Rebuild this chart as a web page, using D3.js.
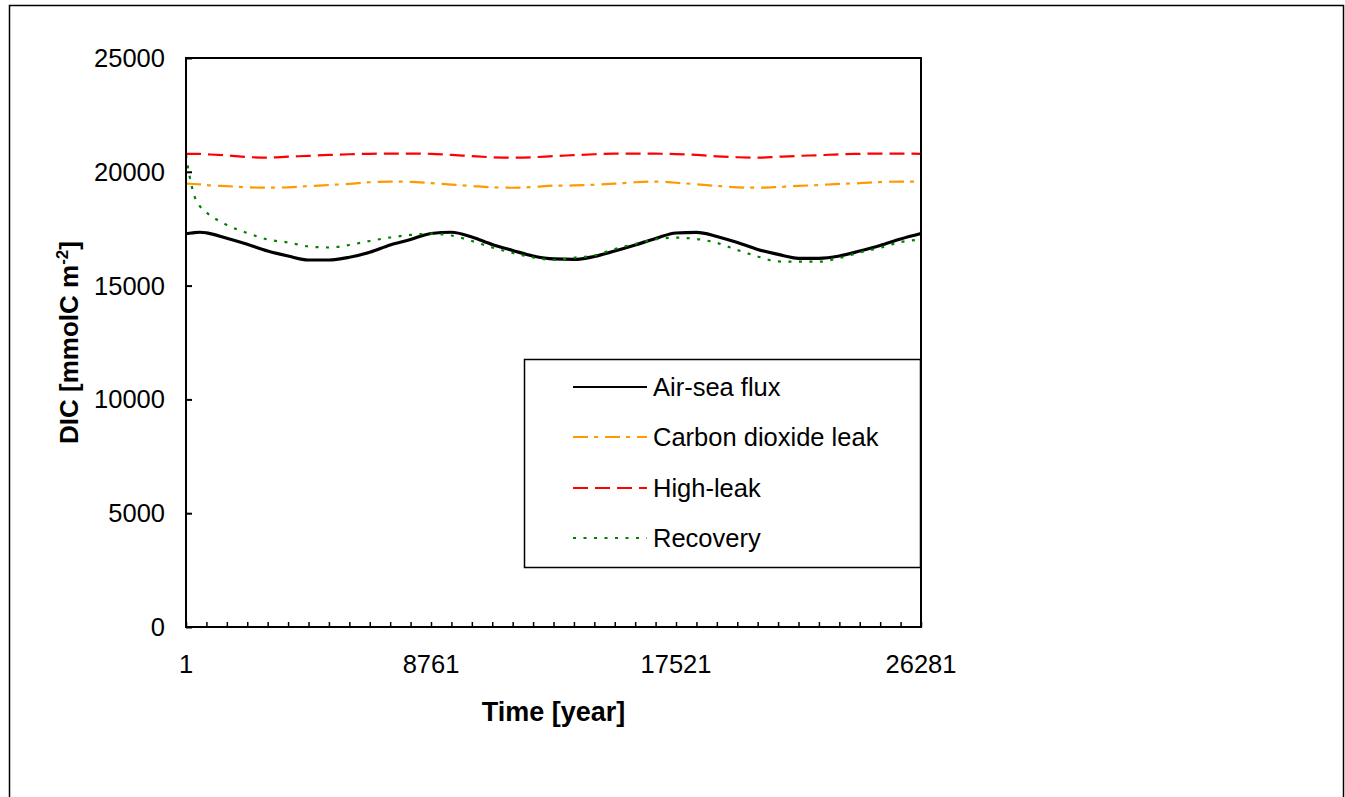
<!DOCTYPE html>
<html>
<head>
<meta charset="utf-8">
<script src="https://cdn.jsdelivr.net/npm/d3@7/dist/d3.min.js"></script>
<style>
  html, body { margin: 0; padding: 0; background: #fff; }
  svg { display: block; font-family: "Liberation Sans", Arial, sans-serif; }
</style>
</head>
<body>
<svg id="chart" width="1345" height="797"></svg>
<script>
// Time steps (hourly index over three years)
const time = [1, 121, 301, 501, 731, 1461, 2191, 2921, 3651, 4381, 5111, 5841, 6571, 7301,
  8031, 8761, 9491, 10221, 10951, 11681, 12411, 13141, 13871, 14601, 15331, 16061,
  16791, 17521, 18251, 18981, 19711, 20441, 21171, 21901, 22631, 23361, 24091,
  24821, 25551, 26281];

// DIC per scenario [mmolC m-2]
const airSeaFlux = [17280, 17300, 17330, 17345, 17320, 17080, 16815, 16520, 16300, 16125,
  16125, 16245, 16465, 16785, 17025, 17290, 17345, 17135, 16805, 16545, 16300, 16170,
  16150, 16280, 16520, 16785, 17070, 17310, 17335, 17160, 16895, 16590, 16370, 16200,
  16200, 16300, 16520, 16765, 17050, 17290];

const co2Leak = [19480, 19475, 19465, 19450, 19420, 19370, 19320, 19300, 19320, 19370,
  19420, 19470, 19540, 19570, 19560, 19500, 19440, 19380, 19320, 19300, 19330, 19390,
  19400, 19430, 19480, 19540, 19570, 19520, 19450, 19380, 19320, 19300, 19330, 19380,
  19420, 19470, 19500, 19550, 19570, 19570];

const highLeak = [20790, 20790, 20790, 20785, 20770, 20720, 20650, 20625, 20665, 20700,
  20740, 20770, 20790, 20800, 20800, 20790, 20745, 20690, 20640, 20620, 20640, 20690,
  20730, 20770, 20795, 20800, 20795, 20780, 20740, 20680, 20640, 20620, 20660, 20700,
  20730, 20770, 20790, 20800, 20800, 20790];

const recovery = [20740, 19860, 18940, 18480, 18215, 17665, 17310, 17025, 16895, 16720,
  16675, 16785, 16960, 17115, 17225, 17280, 17200, 16960, 16675, 16435, 16235, 16125,
  16225, 16325, 16610, 16830, 17035, 17105, 17050, 16875, 16565, 16280, 16060, 16050,
  16050, 16215, 16455, 16665, 16915, 17020];

const seriesNames = ["Air-sea flux", "Carbon dioxide leak", "High-leak", "Recovery"];
const xTickLabels = [1, 8761, 17521, 26281];
const yTickValues = [0, 5000, 10000, 15000, 20000, 25000];
const minorTickTimes = [1, 731, 1461, 2191, 2921, 3651, 4381, 5111, 5841, 6571, 7301,
  8031, 8761, 9491, 10221, 10951, 11681, 12411, 13141, 13871, 14601, 15331, 16061,
  16791, 17521, 18251, 18981, 19711, 20441, 21171, 21901, 22631, 23361, 24091,
  24821, 25551, 26281];

const styles = [
  { values: airSeaFlux, color: "#000000", width: 3.2, dash: null,        legendWidth: 2 },
  { values: co2Leak,    color: "#ff9900", width: 2.2, dash: "15,6,4,7",  legendWidth: 2 },
  { values: highLeak,   color: "#ff0000", width: 2.2, dash: "15,7",      legendWidth: 2 },
  { values: recovery,   color: "#008000", width: 2.2, dash: "3,7.5",     legendWidth: 2 }
];

const FONT = 25.5;
const TITLE_FONT = 27;
const svg = d3.select("#chart");
const plot = { left: 186, top: 58, right: 921, bottom: 627 };

// Outer frame
svg.append("rect")
  .attr("x", 9.5).attr("y", 5.5)
  .attr("width", 1334).attr("height", 820)
  .attr("fill", "#fff").attr("stroke", "#000").attr("stroke-width", 1.5);

const x = d3.scaleLinear().domain([1, 26281]).range([plot.left, plot.right]);
const y = d3.scaleLinear().domain([0, 25000]).range([plot.bottom, plot.top]);

// Series
const line = d3.line().curve(d3.curveMonotoneX);
styles.forEach(s => {
  svg.append("path")
    .attr("d", line(time.map((t, i) => [x(t), y(s.values[i])])))
    .attr("fill", "none")
    .attr("stroke", s.color)
    .attr("stroke-width", s.width)
    .attr("stroke-dasharray", s.dash)
    .attr("stroke-linejoin", "round");
});

// Plot frame
svg.append("rect")
  .attr("x", plot.left).attr("y", plot.top)
  .attr("width", plot.right - plot.left).attr("height", plot.bottom - plot.top)
  .attr("fill", "none").attr("stroke", "#000").attr("stroke-width", 2);

// Y axis
const yAxis = svg.append("g")
  .attr("transform", `translate(${plot.left},0)`)
  .call(d3.axisRight(y).tickValues(yTickValues).tickSize(6).tickFormat(""));
yAxis.select(".domain").remove();
yAxis.selectAll(".tick line").attr("stroke", "#000").attr("stroke-width", 2);

svg.append("g").selectAll("text")
  .data(yTickValues).join("text")
  .attr("x", 165).attr("y", d => y(d) + 9)
  .attr("text-anchor", "end")
  .attr("font-size", FONT).attr("fill", "#000")
  .text(d => d);

// X axis: monthly ticks inside, yearly labels below
const xAxis = svg.append("g")
  .attr("transform", `translate(0,${plot.bottom})`)
  .call(d3.axisTop(x).tickValues(minorTickTimes).tickSize(5).tickFormat(""));
xAxis.select(".domain").remove();
xAxis.selectAll(".tick line").attr("stroke", "#000").attr("stroke-width", 1.5);

svg.append("g").selectAll("text")
  .data(xTickLabels).join("text")
  .attr("x", d => x(d)).attr("y", 673)
  .attr("text-anchor", "middle")
  .attr("font-size", FONT).attr("fill", "#000")
  .text(d => d);

// Axis titles
svg.append("text")
  .attr("x", (plot.left + plot.right) / 2).attr("y", 721)
  .attr("text-anchor", "middle")
  .attr("font-size", TITLE_FONT).attr("font-weight", "bold")
  .text("Time [year]");

const yTitle = svg.append("text")
  .attr("transform", `translate(78,${(plot.top + plot.bottom) / 2}) rotate(-90)`)
  .attr("text-anchor", "middle")
  .attr("font-size", 26).attr("font-weight", "bold");
yTitle.append("tspan").text("DIC [mmolC m");
yTitle.append("tspan").attr("dy", -10).attr("font-size", 17).text("-2");
yTitle.append("tspan").attr("dy", 10).text("]");

// Legend
const legend = svg.append("g");
legend.append("rect")
  .attr("x", 524.5).attr("y", 359.5).attr("width", 396).attr("height", 208)
  .attr("fill", "#fff").attr("stroke", "#000").attr("stroke-width", 1.5);

const rowY = [387, 437, 488, 538];
styles.forEach((s, i) => {
  legend.append("line")
    .attr("x1", 573).attr("x2", 647)
    .attr("y1", rowY[i]).attr("y2", rowY[i])
    .attr("stroke", s.color).attr("stroke-width", s.legendWidth)
    .attr("stroke-dasharray", s.dash);
  legend.append("text")
    .attr("x", 653).attr("y", rowY[i] + 9)
    .attr("font-size", FONT).attr("fill", "#000")
    .text(seriesNames[i]);
});
</script>
</body>
</html>
